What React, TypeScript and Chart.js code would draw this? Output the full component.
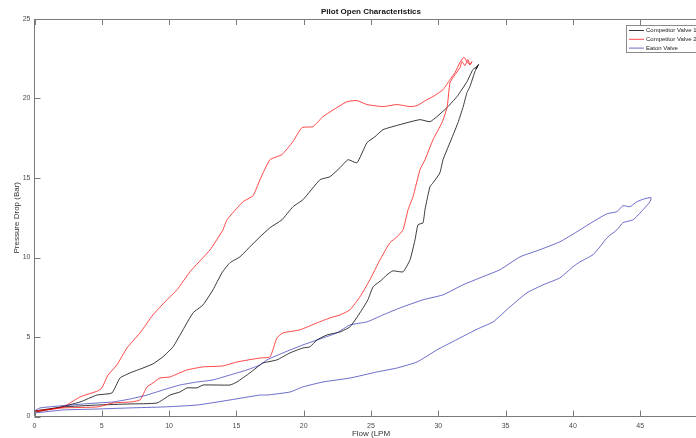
import React, { useEffect, useRef } from "react";
import { Chart, registerables } from "chart.js";

Chart.register(...registerables);

const chartTitle = "Pilot Open Characteristics";
const xAxisLabel = "Flow (LPM";
const yAxisLabel = "Pressure Drop (Bar)";
const seriesNames = ["Competitor Valve 1", "Competitor Valve 2", "Eaton Valve"];
const seriesColors = ["rgba(0,0,0,0.78)", "rgba(255,0,0,0.72)", "rgba(20,20,170,0.62)"];
const xTicks = [0, 5, 10, 15, 20, 25, 30, 35, 40, 45, 50];
const yTicks = [0, 5, 10, 15, 20, 25];

// Competitor Valve 1 (black): rising branch, then returning branch
const valve1Flow = [
  0, 2.12, 4.64, 7.09, 9.1, 10.07, 10.8, 11.33, 12.07, 12.52, 14.52, 15.04, 16.0, 16.75, 16.97, 18.01,
  18.98, 19.94, 20.46, 20.99, 21.73, 22.7, 23.44, 24.18, 24.77, 25.15, 25.81, 26.18, 26.63, 27.38, 27.9,
  28.27, 28.49, 28.86, 29.01, 29.16, 29.38, 29.61, 30.12, 30.35, 31.02, 31.46, 31.83, 32.13, 32.35, 32.72,
  32.94, 32.8, 33.0, 32.87,
  32.57, 32.13, 31.39, 30.65, 29.9, 29.38, 28.64, 27.16, 25.89, 25.3, 24.7, 23.96, 23.29, 22.7, 21.95,
  21.21, 19.94, 19.2, 18.38, 17.49, 16.75, 16.0, 15.26, 14.52, 13.93, 13.26, 12.52, 11.78, 11.03, 10.29,
  9.54, 8.8, 8.06, 7.09, 6.35, 5.75, 4.64, 3.38, 1.67, 0,
];
const valve1Pressure = [
  0.35, 0.6, 0.72, 0.79, 0.85, 1.35, 1.54, 1.8, 1.8, 1.98, 1.98, 2.17, 2.74, 3.24, 3.37, 3.56,
  4.0, 4.31, 4.38, 4.82, 5.13, 5.32, 5.64, 6.52, 7.34, 8.15, 8.6, 8.91, 9.16, 9.1, 9.86,
  11.11, 12.06, 12.18, 13.0, 13.63, 14.45, 14.7, 15.33, 16.15, 17.54, 18.48, 19.43, 20.37, 20.75, 21.69,
  22.07, 21.85, 22.15, 22.0,
  21.82, 21.06, 20.12, 19.43, 18.86, 18.54, 18.67, 18.36, 18.04, 17.6, 17.22, 15.96, 16.15, 15.65, 15.08,
  14.89, 13.63, 13.19, 12.37, 11.87, 11.3, 10.67, 10.04, 9.67, 9.04, 7.97, 7.02, 6.52, 5.45, 4.38,
  3.75, 3.31, 3.05, 2.74, 2.42, 1.48, 1.35, 0.91, 0.54, 0.28,
];

// Competitor Valve 2 (red)
const valve2Flow = [
  0, 2.12, 4.64, 5.83, 7.09, 7.84, 8.36, 8.8, 9.32, 10.07, 11.33, 12.52, 14.0, 15.04, 16.75, 17.5,
  18.01, 18.46, 19.72, 20.99, 21.95, 22.7, 23.44, 24.18, 24.92, 25.67, 26.41, 26.93, 27.38, 27.75, 28.12,
  28.64, 29.01, 29.61, 30.27, 30.65, 30.87, 31.24, 31.61, 31.76, 31.98, 32.2, 32.35, 32.5,
  32.35, 32.13, 31.9, 31.61, 31.24, 30.87, 30.35, 29.61, 29.16, 28.42, 27.9, 26.93, 25.89, 24.7, 23.96,
  23.22, 22.47, 21.43, 20.69, 19.87, 19.2, 18.38, 17.49, 16.75, 16.23, 15.49, 14.3, 14.0, 13.04, 11.55,
  10.59, 9.84, 8.8, 7.84, 6.87, 6.12, 5.46, 5.01, 4.71, 3.38, 2.12, 0,
];
const valve2Pressure = [
  0.35, 0.54, 0.6, 0.85, 0.91, 1.04, 1.86, 2.11, 2.42, 2.49, 2.93, 3.12, 3.18, 3.43, 3.68, 3.75,
  4.94, 5.26, 5.45, 5.89, 6.2, 6.39, 6.71, 7.53, 8.6, 9.86, 10.93, 11.3, 11.74, 13.0, 13.82,
  15.52, 16.15, 17.41, 18.48, 19.43, 21.0, 21.5, 21.94, 22.32, 22.07, 22.45, 22.13, 22.32,
  22.13, 22.32, 22.6, 22.26, 21.63, 21.19, 20.56, 20.12, 19.93, 19.55, 19.49, 19.62, 19.49, 19.62, 19.87,
  19.8, 19.43, 18.86, 18.23, 18.17, 17.29, 16.47, 16.15, 14.89, 13.88, 13.51, 12.37, 11.74, 10.48, 9.1,
  7.97, 7.34, 6.39, 5.26, 4.31, 3.24, 2.61, 1.8, 1.61, 1.23, 0.6, 0.28,
];

// Eaton Valve (blue)
const eatonFlow = [
  0, 0.41, 2.64, 4.64, 5.83, 7.09, 8.36, 9.55, 10.81, 12.07, 13.26, 14.52, 15.79, 16.75, 17.27, 18.46,
  19.94, 21.43, 22.47, 23.44, 24.7, 25.89, 27.16, 28.86, 30.35, 31.83, 33.1, 34.58, 36.07, 37.55, 39.04,
  40.3, 41.49, 42.53, 43.27, 43.72, 44.24, 44.76, 45.35, 45.8,
  45.73, 45.21, 44.47, 43.72, 43.27, 42.53, 42.01, 41.49, 40.53, 40.01, 39.04, 37.78, 36.59, 35.33, 34.07,
  32.9, 31.61, 29.9, 28.42, 26.93, 25.44, 23.44, 21.43, 19.94, 18.98, 17.27, 16.75, 14.52, 12.07, 9.55,
  7.09, 4.64, 2.12, 0,
];
const eatonPressure = [
  0.35, 0.54, 0.72, 0.85, 0.91, 1.1, 1.35, 1.67, 1.98, 2.17, 2.3, 2.61, 2.93, 3.24, 3.56, 4.0,
  4.5, 4.94, 5.26, 5.76, 5.95, 6.39, 6.83, 7.34, 7.65, 8.28, 8.72, 9.23, 10.04, 10.49, 10.99,
  11.62, 12.25, 12.75, 12.88, 13.26, 13.19, 13.51, 13.7, 13.76,
  13.51, 13.0, 12.37, 12.19, 11.74, 11.24, 10.67, 10.17, 9.73, 9.42, 8.72, 8.28, 7.78, 6.9, 5.95,
  5.5, 4.94, 4.19, 3.43, 3.05, 2.8, 2.42, 2.17, 1.86, 1.54, 1.35, 1.35, 1.04, 0.72, 0.6,
  0.54, 0.47, 0.41, 0.22,
];

const FONT = '"Liberation Sans", Arial, Helvetica, sans-serif';

const toPoints = (xs: number[], ys: number[]) => xs.map((x, i) => ({ x, y: ys[i] }));

const decorPlugin = {
  id: "matlabDecor",
  afterDraw(chart: any) {
    const { ctx, chartArea } = chart;
    const xs = chart.scales.x;
    const ys = chart.scales.y;
    const L = chartArea.left;
    const R = chartArea.right;
    const T = chartArea.top;
    const B = chartArea.bottom;
    ctx.save();
    ctx.strokeStyle = "#7a7a7a";
    ctx.lineWidth = 1;
    ctx.beginPath();
    ctx.moveTo(L, T + 0.5);
    ctx.lineTo(R, T + 0.5);
    ctx.moveTo(L, T);
    ctx.lineTo(L, B);
    ctx.moveTo(L, B);
    ctx.lineTo(R, B);
    ctx.moveTo(R - 0.5, T);
    ctx.lineTo(R - 0.5, B);
    const tl = 6;
    xTicks.forEach((v) => {
      const px = Math.round(xs.getPixelForValue(v)) + 0.5;
      ctx.moveTo(px, B);
      ctx.lineTo(px, B - tl);
      ctx.moveTo(px, T);
      ctx.lineTo(px, T + tl);
    });
    yTicks.forEach((v) => {
      const py = Math.round(ys.getPixelForValue(v)) + 0.5;
      ctx.moveTo(L, py);
      ctx.lineTo(L + tl, py);
      ctx.moveTo(R, py);
      ctx.lineTo(R - tl, py);
    });
    ctx.stroke();

    // title and axis labels
    ctx.fillStyle = "#111";
    ctx.textAlign = "center";
    ctx.textBaseline = "middle";
    ctx.font = `bold 8px ${FONT}`;
    const cx = (L + R) / 2;
    ctx.fillText(chartTitle, cx, 11.5);
    ctx.fillStyle = "#333";
    ctx.font = `8px ${FONT}`;
    ctx.fillText(xAxisLabel, cx, 433.5);
    ctx.save();
    ctx.translate(17, (T + B) / 2);
    ctx.rotate(-Math.PI / 2);
    ctx.fillText(yAxisLabel, 0, 0);
    ctx.restore();

    // legend box
    const lx = 626.5;
    const ly = 25.5;
    ctx.fillStyle = "#fff";
    ctx.fillRect(lx, ly, 80, 27);
    ctx.strokeStyle = "#8a8a8a";
    ctx.strokeRect(lx, ly, 80, 27);
    ctx.font = `6px ${FONT}`;
    ctx.textAlign = "left";
    seriesNames.forEach((name, i) => {
      const yy = 30.5 + i * 8.8;
      ctx.strokeStyle = seriesColors[i];
      ctx.beginPath();
      ctx.moveTo(629, yy);
      ctx.lineTo(644, yy);
      ctx.stroke();
      ctx.fillStyle = "#222";
      ctx.fillText(name, 646, yy);
    });
    ctx.restore();
  },
};

export default function App() {
  const canvasRef = useRef<HTMLCanvasElement | null>(null);

  useEffect(() => {
    if (!canvasRef.current) return;
    const datasets = [
      { label: seriesNames[0], data: toPoints(valve1Flow, valve1Pressure), borderColor: seriesColors[0], order: 3 },
      { label: seriesNames[1], data: toPoints(valve2Flow, valve2Pressure), borderColor: seriesColors[1], order: 2 },
      { label: seriesNames[2], data: toPoints(eatonFlow, eatonPressure), borderColor: seriesColors[2], order: 1 },
    ].map((d) => ({
      ...d,
      borderWidth: 1,
      pointRadius: 0,
      fill: false,
      tension: 0.15,
      showLine: true,
      backgroundColor: d.borderColor,
    }));

    const chart = new Chart(canvasRef.current, {
      type: "scatter",
      data: { datasets },
      options: {
        animation: false,
        responsive: false,
        devicePixelRatio: 1,
        layout: { padding: { left: 0, right: 12.5, top: 19, bottom: 0 } },
        plugins: {
          legend: { display: false },
          title: { display: false },
          tooltip: { enabled: false },
        },
        scales: {
          x: {
            type: "linear",
            min: 0,
            max: 50,
            grid: { display: false, drawTicks: false },
            border: { display: false },
            afterBuildTicks: (s: any) => {
              s.ticks = xTicks.map((v) => ({ value: v }));
            },
            afterFit: (s: any) => {
              s.height = 21.5;
            },
            ticks: {
              padding: 5,
              maxRotation: 0,
              color: "#4a4a4a",
              font: { family: FONT, size: 7 },
            },
          },
          y: {
            type: "linear",
            min: 0,
            max: 25,
            grid: { display: false, drawTicks: false },
            border: { display: false },
            afterBuildTicks: (s: any) => {
              s.ticks = yTicks.map((v) => ({ value: v }));
            },
            afterFit: (s: any) => {
              s.width = 34.5;
            },
            ticks: {
              padding: 4,
              color: "#4a4a4a",
              font: { family: FONT, size: 7 },
            },
          },
        },
      },
      plugins: [decorPlugin],
    });
    return () => chart.destroy();
  }, []);

  return (
    <div
      style={{
        position: "absolute",
        left: 0,
        top: 0,
        width: 696,
        height: 438,
        overflow: "hidden",
        background: "#fff",
      }}
    >
      <canvas ref={canvasRef} width={720} height={438} style={{ width: 720, height: 438, display: "block" }} />
    </div>
  );
}
